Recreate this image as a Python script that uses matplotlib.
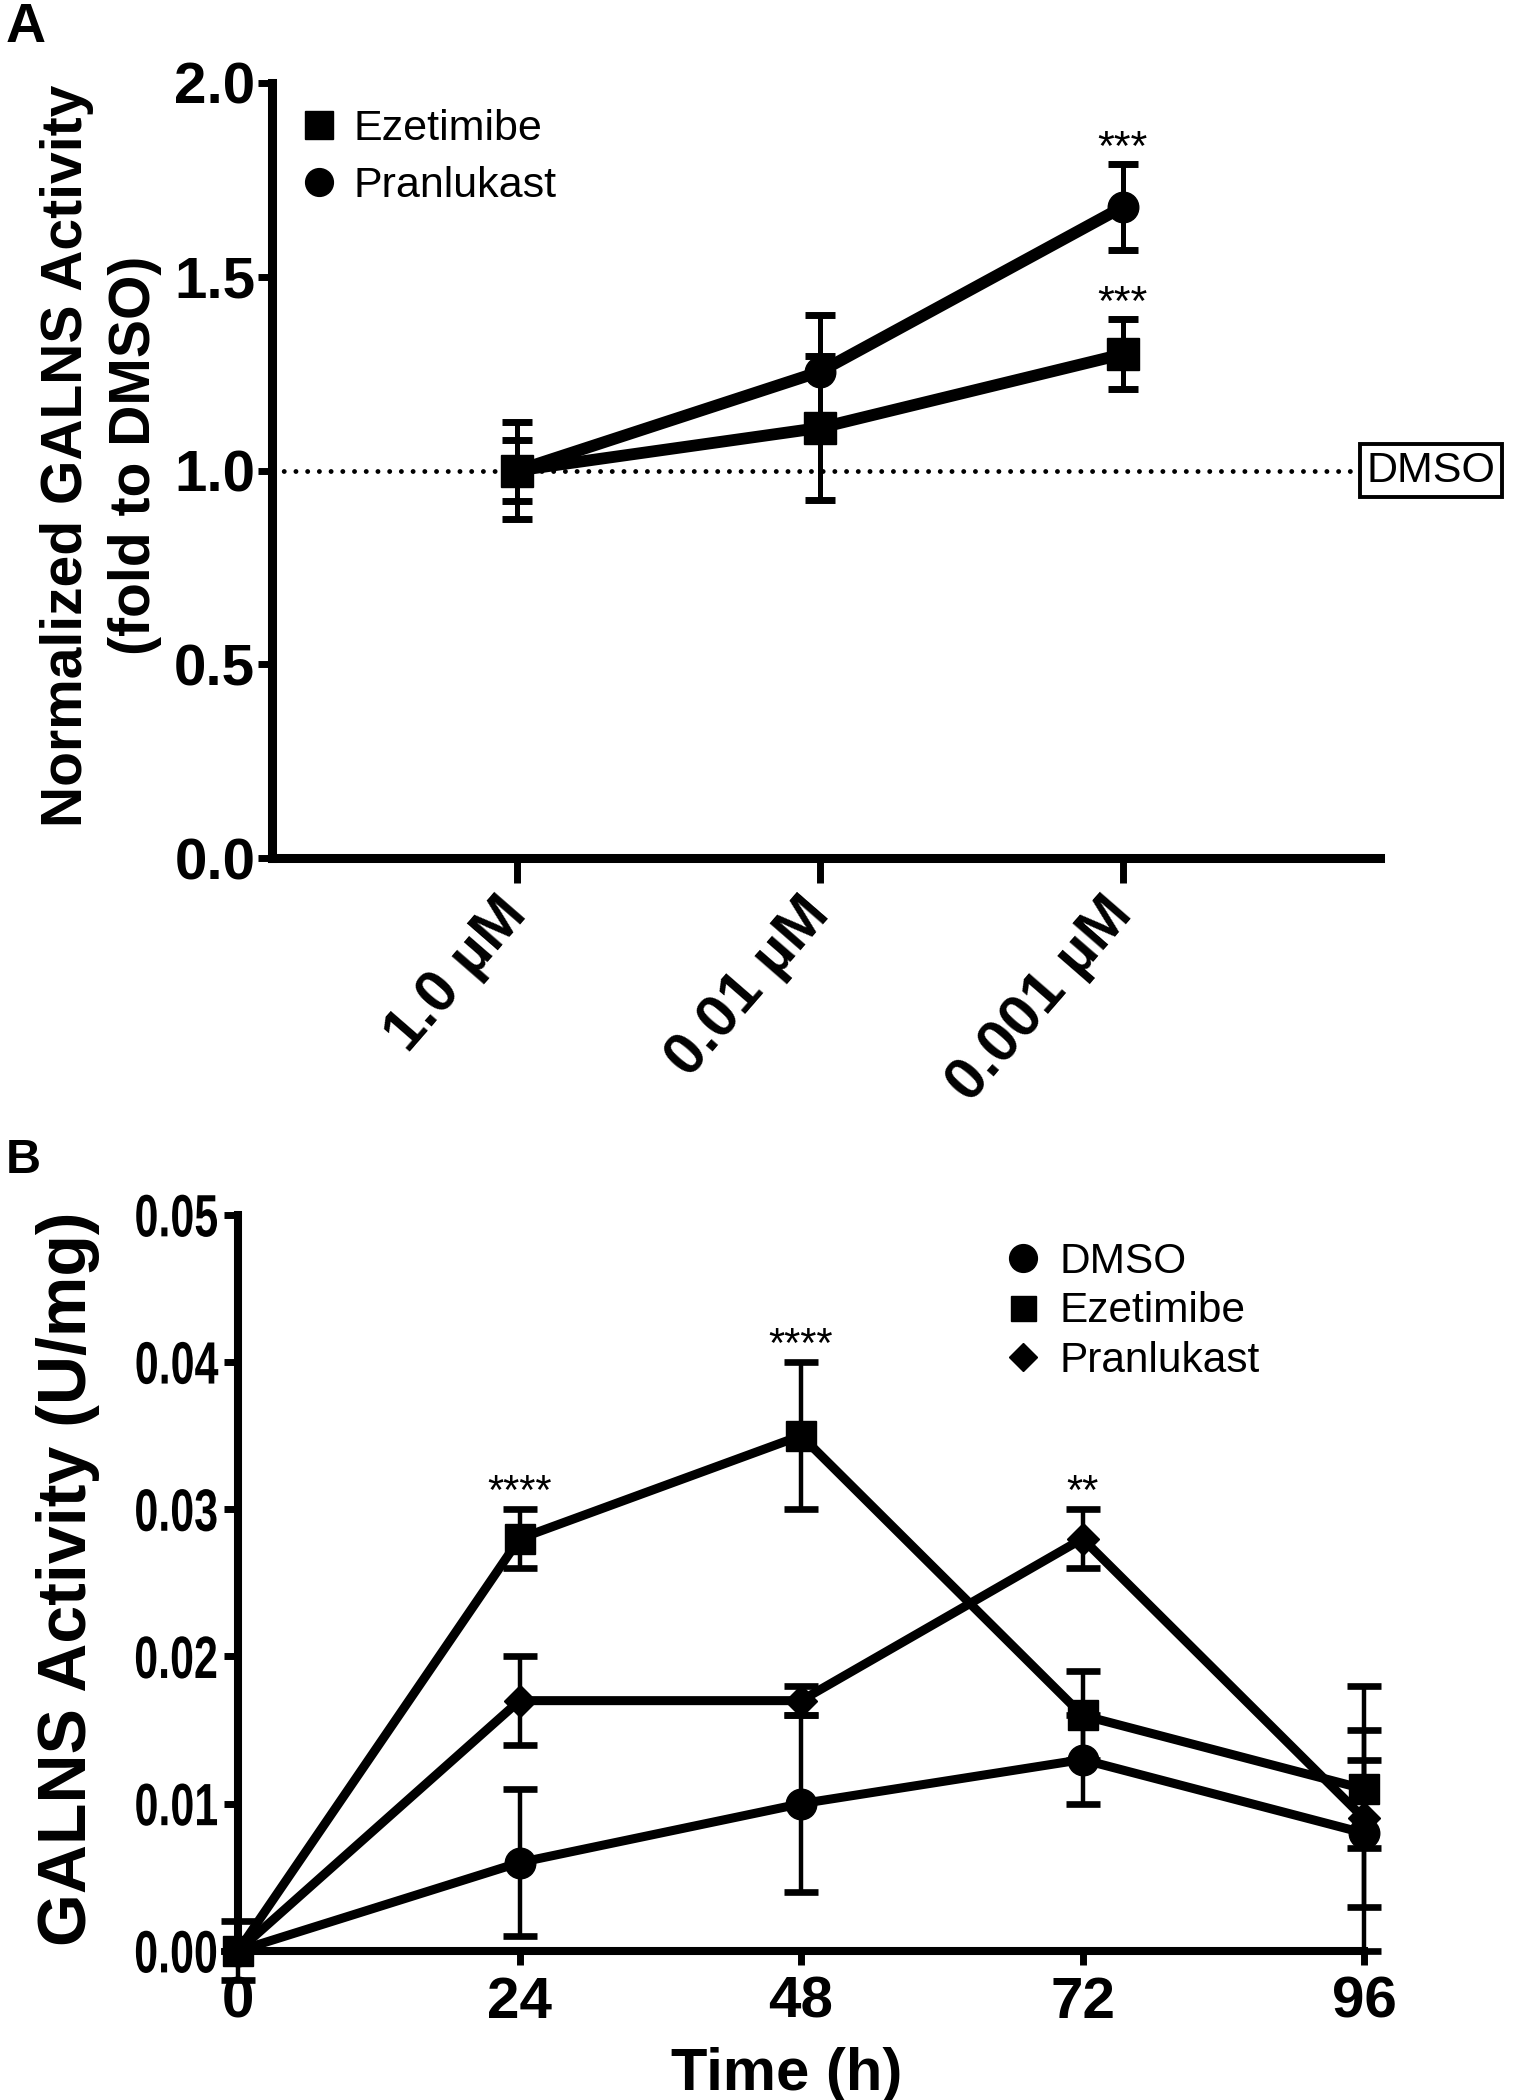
"""GALNS activity: dose response (A) and time course (B)."""

import matplotlib

matplotlib.use("Agg")
import matplotlib.pyplot as plt
import matplotlib.transforms as mtransforms
import numpy as np
from matplotlib.lines import Line2D
from matplotlib.patheffects import AbstractPathEffect

plt.rcParams["font.family"] = ["Liberation Sans", "DejaVu Sans"]

# Panel A: fold activity vs concentration
conc_labels = ["1.0 µM", "0.01 µM", "0.001 µM"]
eze_a = [1.00, 1.11, 1.30]
eze_a_err = [0.125, 0.185, 0.09]
pran_a = [1.00, 1.255, 1.68]
pran_a_err = [0.078, 0.145, 0.11]
eze_a_sig = ["", "", "***"]
pran_a_sig = ["", "", "***"]

# Panel B: activity (U/mg) vs time
hours = [0, 24, 48, 72, 96]
dmso_b = [0.0, 0.006, 0.010, 0.013, 0.008]
dmso_b_err = [0.002, 0.005, 0.006, 0.003, 0.005]
eze_b = [0.0, 0.028, 0.035, 0.016, 0.011]
eze_b_err = [0.0, 0.002, 0.005, 0.003, 0.004]
pran_b = [0.0, 0.017, 0.017, 0.028, 0.009]
pran_b_err = [0.0, 0.003, 0.001, 0.002, 0.009]
eze_b_sig = ["", "****", "****", "", ""]
pran_b_sig = ["", "", "", "**", ""]


class Squeeze(AbstractPathEffect):
    """Narrow a text path horizontally, keeping its right edge in place."""

    def __init__(self, sx):
        super().__init__()
        self._sx = sx

    def draw_path(self, renderer, gc, tpath, affine, rgbFace=None):
        x1 = affine.transform_path(tpath).get_extents().x1
        squeeze = mtransforms.Affine2D().translate(-x1, 0).scale(self._sx, 1).translate(x1, 0)
        renderer.draw_path(gc, tpath, affine + squeeze, rgbFace)


def _stars(ax, x, y, err, sig, size):
    for xi, yi, ei, s in zip(x, y, err, sig):
        if s:
            ax.annotate(
                s,
                (xi, yi + ei),
                xytext=(0, -3),
                textcoords="offset points",
                ha="center",
                va="bottom",
                fontsize=size,
            )


fig = plt.figure(figsize=(15.18, 21.0), dpi=100)

# ---------------- Panel A ----------------
ax_a = fig.add_axes([0.1792, 0.5914, 0.7299, 0.3691])
xa = np.arange(len(conc_labels))

ax_a.errorbar(
    xa, pran_a, yerr=pran_a_err, fmt="o-", color="black", ms=22, lw=8.5,
    elinewidth=3.6, capsize=11, capthick=5, zorder=3, clip_on=False,
)
ax_a.errorbar(
    xa, eze_a, yerr=eze_a_err, fmt="s-", color="black", ms=23, lw=8.5,
    elinewidth=3.6, capsize=11, capthick=5, zorder=4, clip_on=False,
)
_stars(ax_a, xa, pran_a, pran_a_err, pran_a_sig, 31)
_stars(ax_a, xa, eze_a, eze_a_err, eze_a_sig, 31)

# DMSO reference line
ax_a.axhline(
    1.0, xmin=0, xmax=0.982, color="black", lw=3.5,
    linestyle=(0, (0.01, 2.4)), dash_capstyle="round", zorder=1,
)
trans = mtransforms.blended_transform_factory(ax_a.transAxes, ax_a.transData)
ax_a.text(
    1.046, 1.0, "DMSO", transform=trans, ha="center", va="center",
    fontsize=31, clip_on=False,
    bbox={"boxstyle": "square,pad=0.15", "fc": "white", "ec": "black", "lw": 2.8},
)

ax_a.set_xlim(-0.81, 2.85)
ax_a.set_ylim(0, 2.0)
ax_a.set_yticks([0, 0.5, 1.0, 1.5, 2.0])
ax_a.set_yticklabels(["0.0", "0.5", "1.0", "1.5", "2.0"],
                     fontsize=42, fontweight="bold")
ax_a.set_xticks(xa)
ax_a.set_xticklabels(conc_labels, rotation=49, ha="right", va="center",
                     rotation_mode="anchor", fontsize=43, fontweight="bold")
ax_a.tick_params(axis="y", direction="out", length=10, width=5, pad=2)
ax_a.tick_params(axis="x", direction="out", length=18, width=5, pad=16)
for side in ["top", "right"]:
    ax_a.spines[side].set_visible(False)
for side in ["left", "bottom"]:
    ax_a.spines[side].set_linewidth(6.5)

ax_a.set_ylabel("Normalized GALNS Activity\n(fold to DMSO)",
                fontsize=41, fontweight="bold", linespacing=1.35)
ax_a.yaxis.set_label_coords(-0.099, 0.519)

handles_a = [
    Line2D([], [], marker="s", color="black", ls="none", ms=20),
    Line2D([], [], marker="o", color="black", ls="none", ms=20),
]
ax_a.legend(
    handles_a, ["Ezetimibe", "Pranlukast"], loc="upper left",
    bbox_to_anchor=(0.023, 0.966), frameon=False, fontsize=31,
    handlelength=1.0, handletextpad=0.3, labelspacing=0.38,
    borderpad=0, borderaxespad=0,
)

# ---------------- Panel B ----------------
ax_b = fig.add_axes([0.1568, 0.0710, 0.7418, 0.3505])

ax_b.errorbar(
    hours, dmso_b, yerr=dmso_b_err, fmt="o-", color="black", ms=22, lw=6.5,
    elinewidth=3.2, capsize=12, capthick=4.8, zorder=3, clip_on=False,
)
ax_b.errorbar(
    hours, pran_b, yerr=pran_b_err, fmt="D-", color="black", ms=16, lw=6.5,
    elinewidth=3.2, capsize=12, capthick=4.8, zorder=3, clip_on=False,
)
ax_b.errorbar(
    hours, eze_b, yerr=eze_b_err, fmt="s-", color="black", ms=21, lw=6.5,
    elinewidth=3.2, capsize=12, capthick=4.8, zorder=4, clip_on=False,
)
_stars(ax_b, hours, eze_b, eze_b_err, eze_b_sig, 30)
_stars(ax_b, hours, pran_b, pran_b_err, pran_b_sig, 30)

ax_b.set_xlim(0, 96)
ax_b.set_ylim(0, 0.05)
ax_b.set_xticks(hours)
ax_b.set_xticklabels([str(h) for h in hours], fontsize=42, fontweight="bold")
ax_b.set_yticks([0, 0.01, 0.02, 0.03, 0.04, 0.05])
ytl = ax_b.set_yticklabels(["0.00", "0.01", "0.02", "0.03", "0.04", "0.05"],
                           fontsize=43, fontweight="bold")
for t in ytl:
    t.set_path_effects([Squeeze(0.72)])
ax_b.tick_params(axis="both", direction="out", length=10, width=5)
ax_b.tick_params(axis="y", pad=4)
ax_b.tick_params(axis="x", pad=8)
for side in ["top", "right"]:
    ax_b.spines[side].set_visible(False)
for side in ["left", "bottom"]:
    ax_b.spines[side].set_linewidth(5.8)

ax_b.set_ylabel("GALNS Activity (U/mg)", fontsize=49, fontweight="bold")
ax_b.yaxis.set_label_coords(-0.123, 0.505)
ax_b.set_xlabel("Time (h)", fontsize=43, fontweight="bold", va="top")
ax_b.xaxis.set_label_coords(0.487, -0.130)

handles_b = [
    Line2D([], [], marker="o", color="black", ls="none", ms=20),
    Line2D([], [], marker="s", color="black", ls="none", ms=18),
    Line2D([], [], marker="D", color="black", ls="none", ms=14),
]
ax_b.legend(
    handles_b, ["DMSO", "Ezetimibe", "Pranlukast"], loc="upper left",
    bbox_to_anchor=(0.678, 0.963), frameon=False, fontsize=30.5,
    handlelength=1.0, handletextpad=0.38, labelspacing=0.22,
    borderpad=0, borderaxespad=0,
)

fig.text(0.004, 0.999, "A", fontsize=40, fontweight="bold", va="top")
fig.text(0.004, 0.458, "B", fontsize=35, fontweight="bold", va="top")

fig.savefig("out.png", dpi=100)
